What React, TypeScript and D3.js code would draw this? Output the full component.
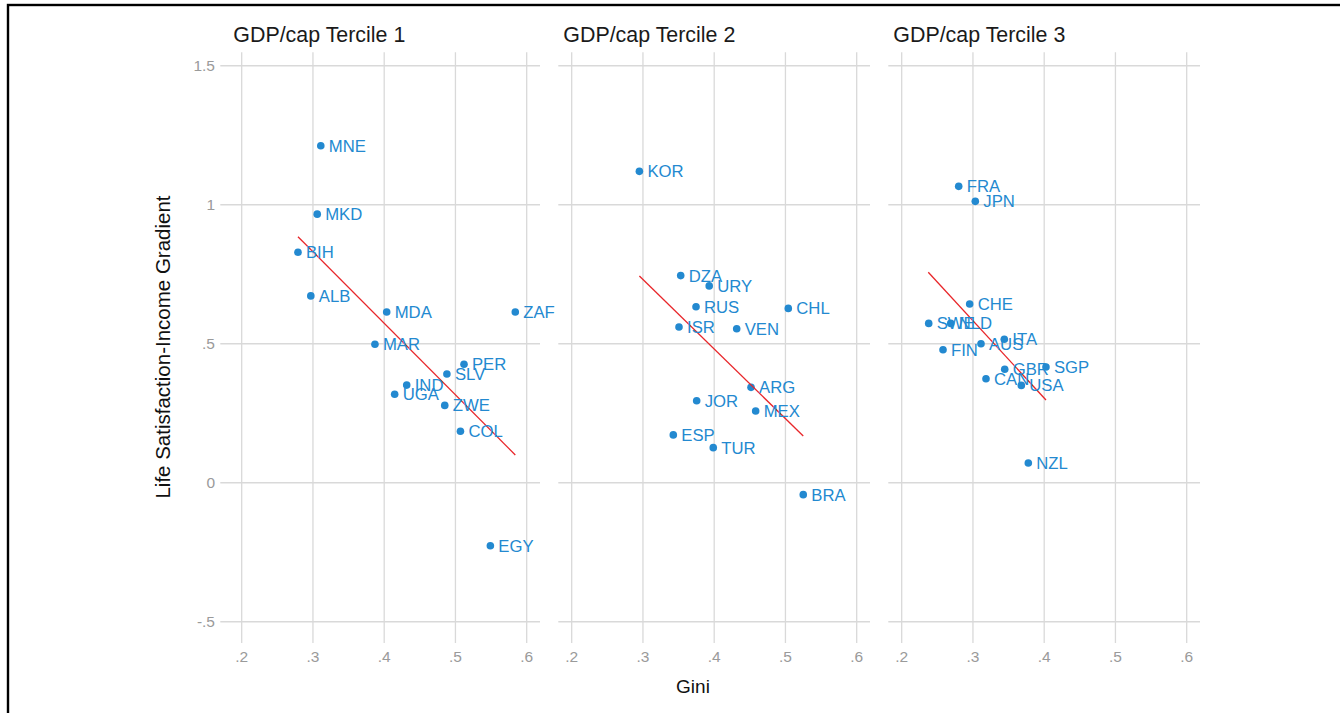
import React from "react";
import * as d3 from "d3";

// ---------- data ----------
const panelTitles = ["GDP/cap Tercile 1", "GDP/cap Tercile 2", "GDP/cap Tercile 3"];

const countries1 = ["MNE", "MKD", "BIH", "ALB", "MDA", "ZAF", "MAR", "PER", "SLV", "IND", "UGA", "ZWE", "COL", "EGY"];
const gini1 = [0.311, 0.306, 0.279, 0.297, 0.4035, 0.584, 0.387, 0.512, 0.488, 0.4316, 0.4147, 0.485, 0.507, 0.549];
const gradient1 = [1.212, 0.966, 0.829, 0.672, 0.614, 0.614, 0.498, 0.426, 0.391, 0.351, 0.318, 0.278, 0.185, -0.227];

const countries2 = ["KOR", "DZA", "URY", "RUS", "CHL", "ISR", "VEN", "ARG", "JOR", "MEX", "ESP", "TUR", "BRA"];
const gini2 = [0.295, 0.353, 0.393, 0.3745, 0.504, 0.3506, 0.4316, 0.4517, 0.3754, 0.4582, 0.3426, 0.3987, 0.525];
const gradient2 = [1.12, 0.745, 0.708, 0.633, 0.627, 0.56, 0.554, 0.343, 0.295, 0.258, 0.172, 0.126, -0.043];

const countries3 = ["FRA", "JPN", "CHE", "SWE", "NLD", "FIN", "AUS", "ITA", "GBR", "SGP", "CAN", "USA", "NZL"];
const gini3 = [0.28, 0.3033, 0.2954, 0.2379, 0.2688, 0.258, 0.3113, 0.344, 0.3446, 0.4025, 0.3183, 0.3679, 0.3777];
const gradient3 = [1.066, 1.012, 0.643, 0.573, 0.573, 0.478, 0.5, 0.516, 0.408, 0.416, 0.374, 0.35, 0.071];

// fitted regression lines (endpoints: gini, fitted gradient)
const fitGini = [[0.279, 0.584], [0.295, 0.525], [0.2373, 0.4025]];
const fitGradient = [[0.885, 0.0997], [0.7435, 0.168], [0.757, 0.2975]];

const xTicks = [0.2, 0.3, 0.4, 0.5, 0.6];
const xTickLabels = [".2", ".3", ".4", ".5", ".6"];
const yTicks = [-0.5, 0, 0.5, 1, 1.5];
const yTickLabels = ["-.5", "0", ".5", "1", "1.5"];

const xTitle = "Gini";
const yTitle = "Life Satisfaction-Income Gradient";

// ---------- styling / layout ----------
const W = 1340;
const H = 713;
const FONT = "'Liberation Sans', Arial, Helvetica, sans-serif";
const BLUE = "#2389d0";
const RED = "#e8262a";
const GRID = "#d9d9d9";
const TICKTXT = "#9a9a9a";

const panelLeft0 = 228.3;
const panelW = 311.7;
const panelGap = 18.3;
const plotTop = 52.3;
const plotBottom = 643;

const series = [
  { c: countries1, x: gini1, y: gradient1 },
  { c: countries2, x: gini2, y: gradient2 },
  { c: countries3, x: gini3, y: gradient3 },
];

const yScale = d3.scaleLinear().domain([-0.5, 1.5]).range([621.7, 65.7]);

export default function App() {
  return (
    <svg
      width={W}
      height={H}
      style={{ position: "absolute", left: 0, top: 0, display: "block", background: "#fff" }}
      fontFamily={FONT}
    >
      <rect x={0} y={0} width={W} height={H} fill="#fff" />
      <rect x={8} y={5} width={W + 50} height={H + 50} fill="none" stroke="#000" strokeWidth={2.4} />

      {series.map((s, i) => {
        const left = panelLeft0 + i * (panelW + panelGap);
        const xScale = d3.scaleLinear().domain([0.18119, 0.61868]).range([left, left + panelW]);
        const line = d3
          .line<number>()
          .x((_, k) => xScale(fitGini[i][k]))
          .y((_, k) => yScale(fitGradient[i][k]));
        return (
          <g key={i}>
            {yTicks.map((t) => (
              <line
                key={"h" + t}
                x1={i === 0 ? left - 8 : left}
                x2={left + panelW}
                y1={yScale(t)}
                y2={yScale(t)}
                stroke={GRID}
                strokeWidth={1.5}
              />
            ))}
            {xTicks.map((t) => (
              <line
                key={"v" + t}
                x1={xScale(t)}
                x2={xScale(t)}
                y1={plotTop}
                y2={plotBottom}
                stroke={GRID}
                strokeWidth={1.3}
              />
            ))}
            {xTicks.map((t, k) => (
              <text
                key={"xl" + t}
                x={xScale(t)}
                y={661.5}
                textAnchor="middle"
                fontSize={15.5}
                fill={TICKTXT}
              >
                {xTickLabels[k]}
              </text>
            ))}
            {i === 0 &&
              yTicks.map((t, k) => (
                <text
                  key={"yl" + t}
                  x={215}
                  y={yScale(t) + 5.5}
                  textAnchor="end"
                  fontSize={15.5}
                  fill={TICKTXT}
                >
                  {yTickLabels[k]}
                </text>
              ))}
            <text x={left + 5} y={41.7} fontSize={21.4} fill="#1a1a1a">
              {panelTitles[i]}
            </text>
            {s.c.map((name, k) => (
              <circle key={"p" + name} cx={xScale(s.x[k])} cy={yScale(s.y[k])} r={3.8} fill={BLUE} />
            ))}
            <path d={line([0, 1]) || ""} fill="none" stroke={RED} strokeWidth={1.3} />
            {s.c.map((name, k) => (
              <text
                key={"t" + name}
                x={xScale(s.x[k]) + 8}
                y={yScale(s.y[k]) + 6}
                fontSize={16.7}
                fill={BLUE}
              >
                {name}
              </text>
            ))}
          </g>
        );
      })}

      <text x={693} y={693} textAnchor="middle" fontSize={19} fill="#111">
        {xTitle}
      </text>
      <text
        transform={`translate(169.5, 347) rotate(-90)`}
        textAnchor="middle"
        fontSize={20.5}
        fill="#111"
      >
        {yTitle}
      </text>
    </svg>
  );
}
